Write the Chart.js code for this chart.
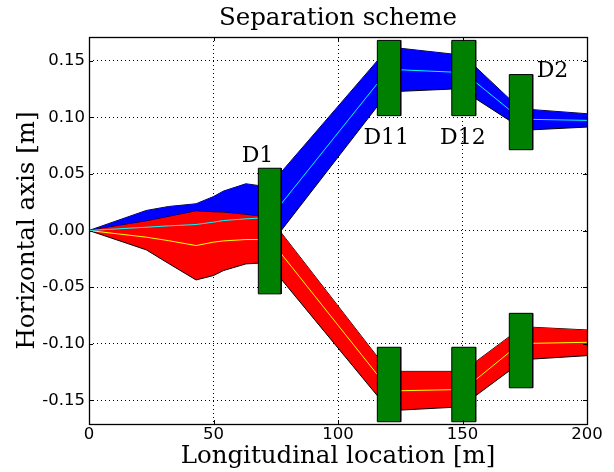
<!DOCTYPE html>
<html>
<head>
<meta charset="utf-8">
<script src="https://cdn.jsdelivr.net/npm/chart.js@4/dist/chart.umd.min.js"></script>
<style>
    body { margin: 0; background: #fff; }
    #chart-con { width: 614px; height: 472px; }
</style>
</head>
<body>
<div id="chart-con">
    <canvas id="my-chart" width="614" height="472"></canvas>
</div>
<script>
// longitudinal stations [m] where the envelopes have a vertex
const stations = [0, 23, 32, 43, 50, 54, 63, 67.8, 77.2, 115.8, 125.2, 145.7, 155.3, 168.8, 178.2, 200];

// beam 1 (blue) envelope and orbit [m]
const blueUpper  = [0, 0.0177, 0.0212, 0.0236, 0.0300, 0.0348, 0.0413, 0.0398, 0.0516, 0.1500, 0.1610, 0.1560, 0.1445, 0.1165, 0.1068, 0.1032];
const blueLower  = [0, -0.0120, -0.0125, -0.0130, -0.0150, -0.0165, -0.0180, -0.0180, 0.0000, 0.1097, 0.1230, 0.1250, 0.1165, 0.0973, 0.0890, 0.0914];
const cyanOrbit  = [0, 0.0029, 0.0041, 0.0053, 0.0074, 0.0088, 0.0103, 0.0109, 0.0236, 0.1298, 0.1420, 0.1400, 0.1310, 0.1068, 0.0982, 0.0973];

// beam 2 (red) envelope and orbit [m]
const redUpper    = [0, 0.0082, 0.0121, 0.0171, 0.0162, 0.0158, 0.0139, 0.0127, -0.0020, -0.1115, -0.1245, -0.1245, -0.1160, -0.0938, -0.0855, -0.0879];
const redLower    = [0, -0.0171, -0.0292, -0.0437, -0.0398, -0.0354, -0.0295, -0.0289, -0.0430, -0.1460, -0.1587, -0.1563, -0.1460, -0.1240, -0.1136, -0.1106];
const yellowOrbit = [0, -0.0059, -0.0090, -0.0133, -0.0103, -0.0092, -0.0080, -0.0080, -0.0206, -0.1274, -0.1416, -0.1407, -0.1319, -0.1077, -0.0997, -0.0988];

// separation dipoles (green boxes)
const boxStart  = [68.0, 115.8, 115.8, 145.7, 145.7, 168.8, 168.8];
const boxEnd    = [77.2, 125.2, 125.2, 155.3, 155.3, 178.2, 178.2];
const boxBottom = [-0.056, 0.1015, -0.169, 0.1015, -0.169, 0.0714, -0.139];
const boxTop    = [0.055, 0.168, -0.1032, 0.168, -0.1032, 0.1378, -0.0732];

// magnet names
const labelText = ['D1', 'D11', 'D12', 'D2'];
const labelX    = [61.3, 110.2, 141.0, 179.8];
const labelY    = [0.0604, 0.0767, 0.0767, 0.1357];

// ticks
const xTicks = [0, 50, 100, 150, 200];
const yTicks = [-0.15, -0.10, -0.05, 0.00, 0.05, 0.10, 0.15];

const chartTitle = 'Separation scheme';


function toPoints(ys){
    return stations.map((s, i) => ({x: s, y: ys[i]}));
}

function boxPoints(i){
    return [
        {x: boxStart[i], y: boxBottom[i]},
        {x: boxStart[i], y: boxTop[i]},
        {x: boxEnd[i], y: boxTop[i]},
        {x: boxEnd[i], y: boxBottom[i]},
        {x: boxStart[i], y: boxBottom[i]}
    ];
}

function lineSet(ys, color, extra){
    return Object.assign({
        data: toPoints(ys),
        borderColor: color,
        borderWidth: 1,
        pointRadius: 0,
        tension: 0,
        fill: false
    }, extra || {});
}

const datasets = [];

// boxes first so they are painted on top
boxStart.forEach((s, i) => {
    datasets.push({
        data: boxPoints(i),
        borderColor: '#000',
        borderWidth: 1,
        backgroundColor: '#008000',
        pointRadius: 0,
        tension: 0,
        fill: 'shape'
    });
});

datasets.push(lineSet(cyanOrbit, '#00ffff'));
datasets.push(lineSet(yellowOrbit, '#ffff00'));
datasets.push(lineSet(redLower, '#000', {fill: '+1', backgroundColor: '#ff0000'}));
datasets.push(lineSet(redUpper, '#000'));
datasets.push(lineSet(blueLower, '#000', {fill: '+1', backgroundColor: '#0000ff'}));
datasets.push(lineSet(blueUpper, '#000'));


const framePlugin = {
    id: 'frame',
    afterDatasetsDraw(chart){
        const ctx = chart.ctx;
        const xs = chart.scales.x;
        const ys = chart.scales.y;
        ctx.save();
        ctx.font = '22px "DejaVu Serif"';
        ctx.fillStyle = '#000';
        ctx.textAlign = 'left';
        ctx.textBaseline = 'alphabetic';
        labelText.forEach((t, i) => {
            ctx.fillText(t, xs.getPixelForValue(labelX[i]), ys.getPixelForValue(labelY[i]));
        });
        ctx.restore();
    },
    afterDraw(chart){
        const ctx = chart.ctx;
        const a = chart.chartArea;
        const xs = chart.scales.x;
        const ys = chart.scales.y;
        ctx.save();
        ctx.strokeStyle = '#000';
        ctx.lineWidth = 1;
        ctx.beginPath();
        xTicks.forEach(v => {
            const px = Math.round(xs.getPixelForValue(v)) + 0.5;
            ctx.moveTo(px, a.bottom); ctx.lineTo(px, a.bottom - 4);
            ctx.moveTo(px, a.top); ctx.lineTo(px, a.top + 4);
        });
        yTicks.forEach(v => {
            const py = Math.round(ys.getPixelForValue(v)) + 0.5;
            ctx.moveTo(a.left, py); ctx.lineTo(a.left + 4, py);
            ctx.moveTo(a.right, py); ctx.lineTo(a.right - 4, py);
        });
        ctx.stroke();
        ctx.lineWidth = 1.3;
        ctx.strokeRect(Math.round(a.left) + 0.5, Math.round(a.top) + 0.5,
                       Math.round(a.right - a.left), Math.round(a.bottom - a.top));

        // title centred over the plot area
        ctx.font = '24.5px "DejaVu Serif"';
        ctx.fillStyle = '#000';
        ctx.textAlign = 'center';
        ctx.textBaseline = 'alphabetic';
        ctx.fillText(chartTitle, (a.left + a.right) / 2, 25);
        ctx.restore();
    }
};

const config = {
    type: 'line',
    data: { datasets: datasets },
    options: {
        responsive: false,
        devicePixelRatio: 1,
        animation: false,
        layout: { padding: { left: 0, right: 27, top: 37, bottom: 0 } },
        plugins: {
            legend: { display: false },
            tooltip: { enabled: false },
            title: { display: false }
        },
        scales: {
            x: {
                type: 'linear',
                min: 0,
                max: 200,
                afterBuildTicks: scale => { scale.ticks = xTicks.map(v => ({value: v})); },
                afterFit: scale => { scale.height = 48; scale.paddingLeft = 0; scale.paddingRight = 0; },
                grid: { color: '#000', lineWidth: 1, drawTicks: false },
                border: { display: false, dash: [1, 3] },
                ticks: {
                    color: '#000',
                    padding: 1,
                    maxRotation: 0,
                    font: { family: 'DejaVu Sans', size: 16.5 },
                    callback: v => String(v)
                },
                title: {
                    display: true,
                    text: 'Longitudinal location [m]',
                    color: '#000',
                    font: { family: 'DejaVu Serif', size: 24.5, weight: 'normal' },
                    padding: { top: 0, bottom: 1 }
                }
            },
            y: {
                type: 'linear',
                min: -0.171,
                max: 0.171,
                afterBuildTicks: scale => { scale.ticks = yTicks.map(v => ({value: v})); },
                afterFit: scale => { scale.width = 89; scale.paddingTop = 0; scale.paddingBottom = 0; },
                grid: { color: '#000', lineWidth: 1, drawTicks: false },
                border: { display: false, dash: [1, 3] },
                ticks: {
                    color: '#000',
                    padding: 4,
                    font: { family: 'DejaVu Sans', size: 16.5 },
                    callback: v => v.toFixed(2)
                },
                title: {
                    display: true,
                    text: 'Horizontal axis [m]',
                    color: '#000',
                    font: { family: 'DejaVu Serif', size: 24.5, weight: 'normal' },
                    padding: { top: 13, bottom: 0 }
                }
            }
        }
    },
    plugins: [framePlugin]
};

var myChart = new Chart(
    document.getElementById('my-chart').getContext("2d"),
    config
);
</script>
</body>
</html>
